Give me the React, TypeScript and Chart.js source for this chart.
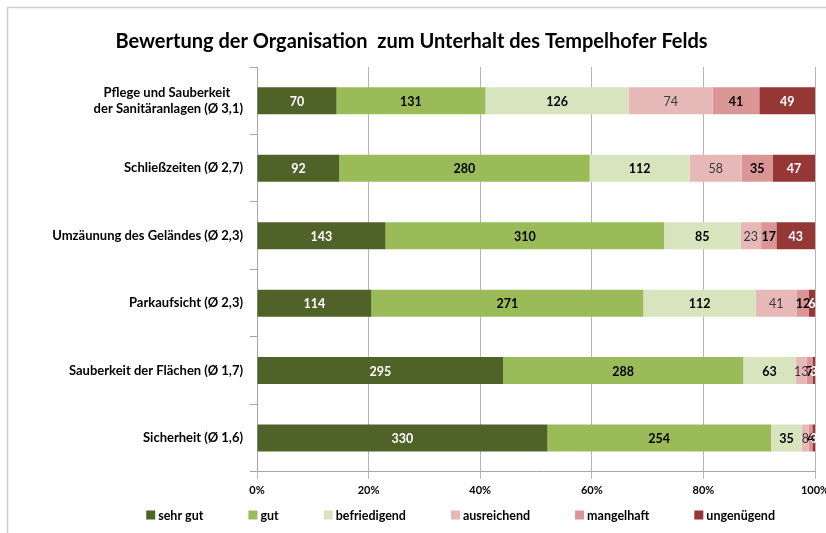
import React, { useEffect, useRef } from "react";
import { Chart, registerables } from "chart.js";

Chart.register(...registerables);

const chartTitle = "Bewertung der Organisation  zum Unterhalt des Tempelhofer Felds";

const categories: (string | string[])[] = [
  ["Pflege und Sauberkeit    ", "der Sanitäranlagen (Ø 3,1)"],
  "Schließzeiten (Ø 2,7)",
  "Umzäunung des Geländes (Ø 2,3)",
  "Parkaufsicht (Ø 2,3)",
  "Sauberkeit der Flächen (Ø 1,7)",
  "Sicherheit (Ø 1,6)",
];

const seriesNames = ["sehr gut", "gut", "befriedigend", "ausreichend", "mangelhaft", "ungenügend"];

const sehrGut = [70, 92, 143, 114, 295, 330];
const gut = [131, 280, 310, 271, 288, 254];
const befriedigend = [126, 112, 85, 112, 63, 35];
const ausreichend = [74, 58, 23, 41, 13, 8];
const mangelhaft = [41, 35, 17, 12, 7, 4];
const ungenuegend = [49, 47, 43, 6, 3, 3];

const xTickLabels = ["0%", "20%", "40%", "60%", "80%", "100%"];

const seriesColors = ["#4f6228", "#9bbb59", "#d7e4bd", "#e6b9b8", "#d99694", "#953735"];
const labelColors = ["#ffffff", "#000000", "#000000", "#3a3a3a", "#000000", "#ffffff"];
const labelWeights = ["bold", "bold", "bold", "normal", "bold", "bold"];

const FONT = "Lato";

const allSeries = [sehrGut, gut, befriedigend, ausreichend, mangelhaft, ungenuegend];

const totals = categories.map((_, j) => allSeries.reduce((s, arr) => s + arr[j], 0));

const framePlugin = {
  id: "frame",
  beforeDraw(chart: any) {
    const ctx = chart.ctx;
    ctx.save();
    ctx.fillStyle = "#ffffff";
    ctx.fillRect(0, 0, chart.width, chart.height);
    ctx.strokeStyle = "#cfcfcf";
    ctx.lineWidth = 1.5;
    ctx.strokeRect(7.5, 7.5, chart.width + 50, chart.height + 50);
    ctx.restore();
  },
};

const valueLabelPlugin = {
  id: "valueLabels",
  afterDatasetsDraw(chart: any) {
    const ctx = chart.ctx;
    chart.data.datasets.forEach((ds: any, i: number) => {
      const meta = chart.getDatasetMeta(i);
      meta.data.forEach((bar: any, j: number) => {
        const { x, base, y } = bar.getProps(["x", "base", "y"], true);
        const cx = (x + base) / 2;
        ctx.save();
        ctx.font = `${labelWeights[i]} 12.5px ${FONT}`;
        ctx.fillStyle = labelColors[i];
        ctx.textAlign = "center";
        ctx.textBaseline = "middle";
        ctx.fillText(String(ds.counts[j]), cx, y + 1);
        ctx.restore();
      });
    });
  },
};

const legendPlugin = {
  id: "customLegend",
  afterDraw(chart: any) {
    const ctx = chart.ctx;
    const box = 9;
    const gapText = 3;
    const gapItem = 45;
    ctx.save();
    ctx.font = `bold 12.5px ${FONT}`;
    const widths = chart.data.datasets.map(
      (ds: any) => box + gapText + ctx.measureText(ds.label).width
    );
    const total = widths.reduce((a: number, b: number) => a + b, 0) + gapItem * (widths.length - 1);
    let x = chart.chartArea.right - total - 40;
    const y = 515;
    chart.data.datasets.forEach((ds: any, i: number) => {
      ctx.fillStyle = ds.backgroundColor;
      ctx.fillRect(x, y - box / 2, box, box);
      ctx.fillStyle = "#000000";
      ctx.textAlign = "left";
      ctx.textBaseline = "middle";
      ctx.fillText(ds.label, x + box + gapText, y + 1);
      x += widths[i] + gapItem;
    });
    ctx.restore();
  },
};

export default function App() {
  const ref = useRef<HTMLCanvasElement | null>(null);

  useEffect(() => {
    if (!ref.current) return;
    const chart = new Chart(ref.current, {
      type: "bar",
      data: {
        labels: categories,
        datasets: allSeries.map((arr, i) => ({
          label: seriesNames[i],
          data: arr.map((v, j) => (v / totals[j]) * 100),
          counts: arr,
          backgroundColor: seriesColors[i],
          borderWidth: 0,
          barPercentage: 0.4,
          categoryPercentage: 1,
        })) as any,
      },
      options: {
        indexAxis: "y",
        responsive: false,
        animation: false,
        layout: { padding: { left: 8, right: 35, top: 10, bottom: 31 } },
        plugins: {
          legend: { display: false },
          tooltip: { enabled: false },
          title: {
            display: true,
            text: chartTitle,
            color: "#000000",
            font: { family: FONT, size: 20, weight: "bold" },
            padding: { top: 20, bottom: 13 },
          },
        },
        scales: {
          x: {
            stacked: true,
            min: 0,
            max: 100,
            ticks: {
              stepSize: 20,
              color: "#000000",
              font: { family: FONT, size: 11, weight: "bold" },
              padding: 5,
              callback: (_v: any, i: number) => xTickLabels[i],
            },
            grid: { color: "#b5b5b5", tickLength: 7 },
            border: { color: "#a6a6a6" },
          },
          y: {
            stacked: true,
            ticks: {
              color: "#000000",
              font: { family: FONT, size: 13, weight: "bold" },
              padding: 7,
            },
            grid: { drawOnChartArea: false, tickLength: 7, color: "#a6a6a6", offset: true },
            border: { color: "#a6a6a6" },
            afterFit: (scale: any) => {
              scale.width = 249;
            },
          },
        },
      } as any,
      plugins: [framePlugin, valueLabelPlugin, legendPlugin],
    });
    return () => chart.destroy();
  }, []);

  return (
    <div style={{ position: "absolute", left: 0, top: 0, width: 826, height: 533, overflow: "hidden" }}>
      <canvas ref={ref} width={850} height={533} style={{ display: "block" }} />
    </div>
  );
}
